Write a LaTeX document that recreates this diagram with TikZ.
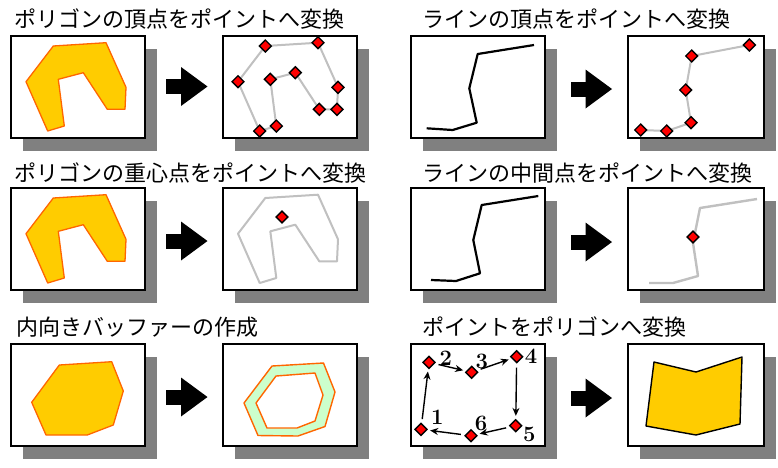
\documentclass[tikz,border=0pt]{standalone}
\usepackage{fontspec}
\newfontfamily\jp{Noto Sans CJK JP}
\usetikzlibrary{shapes.geometric,arrows.meta}
\definecolor{polyfill}{HTML}{FFCC00}
\definecolor{polyedge}{HTML}{FF6600}
\definecolor{shadowgray}{HTML}{808080}
\definecolor{ghost}{HTML}{C0C0C0}
\definecolor{buffgreen}{HTML}{CCFFCC}
\definecolor{ptred}{HTML}{FF0000}
\tikzset{
  frame/.style={draw=black, line width=2pt, fill=white},
  shadowbox/.style={fill=shadowgray},
  title/.style={anchor=west, inner sep=0pt, font=\jp\fontsize{22}{26}\selectfont},
  pt/.style={diamond, draw=black, fill=ptred, line width=1.4pt, minimum size=12.5pt, inner sep=0pt},
  poly/.style={fill=polyfill, draw=polyedge, line width=1.3pt, line join=round},
  ghostline/.style={draw=ghost, line width=2pt, line join=round},
  blackline/.style={draw=black, line width=2.2pt, line join=round},
  numlabel/.style={inner sep=0pt, font=\fontseries{bx}\selectfont\fontsize{22}{22}\selectfont},
  seqarrow/.style={draw=black, line width=1.4pt, -{Stealth[length=8pt,width=7pt]}, shorten <=4pt, shorten >=3pt},
  bigarrow/.pic={\fill[black] (-20.5,-7.5) rectangle (-5,7.5);
                 \fill[black] (-5.5,-19.5) -- (21,0) -- (-5.5,19.5) -- cycle;}
}
\newcommand\panelbox[4]{%
  \fill[shadowbox] (#1+12,#2+13) rectangle (#3+12,#4+13);
  \draw[frame] (#1,#2) rectangle (#3,#4);}
\begin{document}
\begin{tikzpicture}[x=1pt,y=-1pt]
\useasboundingbox (0,0) rectangle (778,467);
% ---------- titles ----------
\node[title] (t1) at (14,19) {ポリゴンの頂点をポイントへ変換};
\node[title] (t2) at (422,19) {ラインの頂点をポイントへ変換};
\node[title] (t3) at (14,173.5) {ポリゴンの重心点をポイントへ変換};
\node[title] (t4) at (422,173) {ラインの中間点をポイントへ変換};
\node[title] (t5) at (16,327.5) {内向きバッファーの作成};
\node[title] (t6) at (422,327.5) {ポイントをポリゴンへ変換};
% ---------- frames ----------
\panelbox{11}{36}{145}{138}
\panelbox{223}{36}{357}{138}
\panelbox{411}{36}{545}{138}
\panelbox{628}{36}{764}{138}
\panelbox{11}{188}{145}{290}
\panelbox{223}{188}{357}{290}
\panelbox{411}{188}{545}{290}
\panelbox{628}{188}{764}{290}
\panelbox{11}{344}{145}{446}
\panelbox{223}{344}{357}{446}
\panelbox{411}{344}{545}{446}
\panelbox{628}{344}{764}{446}
% ---------- big arrows ----------
\pic at (186.5,86.5) {bigarrow};
\pic at (591,89) {bigarrow};
\pic at (186.5,241) {bigarrow};
\pic at (591,242) {bigarrow};
\pic at (186.5,397) {bigarrow};
\pic at (591,398) {bigarrow};
% ---------- row 1 left: polygon ----------
\path[poly] (53.3,46) -- (106,42.7) -- (126,87.3) -- (125,109.3) -- (107.3,109.3)
  -- (83.3,72.7) -- (58.3,79.3) -- (64.3,126) -- (47.7,131) -- (26,81.7) -- cycle;
% ---------- row 1: polygon vertices to points ----------
\begin{scope}[shift={(212,0)}]
  \coordinate (v1) at (53.3,46);
  \coordinate (v2) at (106,42.7);
  \coordinate (v3) at (126,87.3);
  \coordinate (v4) at (125,109.3);
  \coordinate (v5) at (107.3,109.3);
  \coordinate (v6) at (83.3,72.7);
  \coordinate (v7) at (58.3,79.3);
  \coordinate (v8) at (64.3,126);
  \coordinate (v9) at (47.7,131);
  \coordinate (v10) at (26,81.7);
\end{scope}
\draw[ghostline] (v1) -- (v2) -- (v3) -- (v4) -- (v5) -- (v6) -- (v7) -- (v8) -- (v9) -- (v10) -- cycle;
\foreach \i in {1,...,10} { \node[pt] (pv\i) at (v\i) {}; }
% ---------- row 1 right: line vertices ----------
\draw[blackline] (426.7,128.3) -- (452.7,130) -- (476.7,122.7) -- (469.3,88.3) -- (477.7,54) -- (534,45);
\coordinate (w1) at (640.7,130);
\coordinate (w2) at (666.7,131);
\coordinate (w3) at (691,122.7);
\coordinate (w4) at (685.7,90);
\coordinate (w5) at (691.7,56);
\coordinate (w6) at (749.3,45);
\draw[ghostline] (w1) -- (w2) -- (w3) -- (w4) -- (w5) -- (w6);
\foreach \i in {1,...,6} { \node[pt] (lw\i) at (w\i) {}; }
% ---------- row 2 left: polygon centroid ----------
\begin{scope}[shift={(0,152)}]
\path[poly] (53.3,46) -- (106,42.7) -- (126,87.3) -- (125,109.3) -- (107.3,109.3)
  -- (83.3,72.7) -- (58.3,79.3) -- (64.3,126) -- (47.7,131) -- (26,81.7) -- cycle;
\end{scope}
\begin{scope}[shift={(212,152)}]
\draw[ghostline] (53.3,46) -- (106,42.7) -- (126,87.3) -- (125,109.3) -- (107.3,109.3)
  -- (83.3,72.7) -- (58.3,79.3) -- (64.3,126) -- (47.7,131) -- (26,81.7) -- cycle;
\end{scope}
\node[pt] (centroid) at (282,217) {};
% ---------- row 2 right: line midpoint ----------
\draw[blackline] (431,280) -- (456,281) -- (480,273.3) -- (473.3,240) -- (481.7,205) -- (538.3,196);
\draw[ghostline, line width=2.4pt] (649,283) -- (673,283) -- (698,276) -- (693,243) -- (700,208) -- (757,199);
\node[pt] (midpt) at (693,237) {};
% ---------- row 3 left: inward buffer ----------
\path[poly] (59.3,365) -- (111.7,361.7) -- (123.3,391) -- (113.3,425) -- (87.3,435)
  -- (46,435) -- (31.7,402.3) -- cycle;
\path[fill=buffgreen, draw=polyedge, line width=1.4pt, line join=round]
  (272,366) -- (323.5,363) -- (335,392) -- (325,426.5) -- (298,436) -- (258,435.5) -- (244,403) -- cycle;
\path[fill=white, draw=polyedge, line width=1.4pt, line join=round]
  (276,376) -- (315,373) -- (323,395) -- (315,421) -- (297,428) -- (267,428) -- (256,403) -- cycle;
% ---------- row 3 right: points to polygon ----------
\node[pt] (p1) at (421,429.3) {};
\node[pt] (p2) at (429,362.3) {};
\node[pt] (p3) at (471.7,372.3) {};
\node[pt] (p4) at (516.7,356.7) {};
\node[pt] (p5) at (515.7,425.7) {};
\node[pt] (p6) at (471,435.7) {};
\node[numlabel] (n1) at (437.3,417.3) {1};
\node[numlabel] (n2) at (445.7,358.3) {2};
\node[numlabel] (n3) at (481.7,361.7) {3};
\node[numlabel] (n4) at (531,356.7) {4};
\node[numlabel] (n5) at (529.3,434.3) {5};
\node[numlabel] (n6) at (481,423.3) {6};
\draw[seqarrow] (p1) -- (p2);
\draw[seqarrow] (p2) -- (p3);
\draw[seqarrow] (p3) -- (p4);
\draw[seqarrow] (p4) -- (p5);
\draw[seqarrow] (p5) -- (p6);
\draw[seqarrow] (p6) -- (p1);
\path[fill=polyfill, draw=black, line width=1.4pt, line join=round]
  (654,362) -- (696,372) -- (742,357) -- (740,424) -- (696,435) -- (646,426) -- cycle;
\end{tikzpicture}
\end{document}
